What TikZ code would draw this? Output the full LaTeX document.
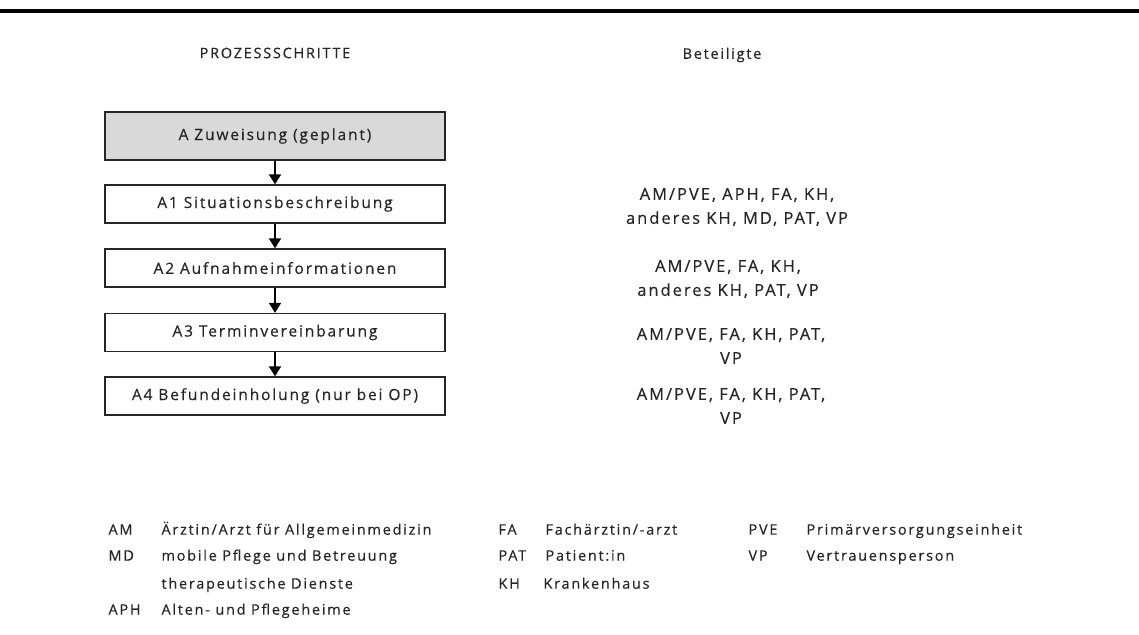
\documentclass[tikz,border=0pt]{standalone}
\usepackage{fontspec}
\setmainfont{Open Sans}[LetterSpace=12, FakeBold=0.4]
\usetikzlibrary{arrows.meta}
\definecolor{ink}{HTML}{262626}
\definecolor{boxgray}{HTML}{D9D9D9}
\begin{document}
\begin{tikzpicture}[x=1pt,y=-1pt,
  font=\fontsize{15.5}{18}\selectfont, text=ink,
  stepbox/.style={draw=black!85, line width=1.3pt, minimum width=340pt,
    minimum height=38pt, inner sep=0pt},
  headbox/.style={stepbox, fill=boxgray, minimum height=48pt},
  flow/.style={-{Triangle[width=12pt,length=10pt]}, line width=1.8pt, black},
  who/.style={align=center, font=\fontsize{16.5}{24}\selectfont},
  title/.style={font=\fontsize{14.5}{17}\selectfont},
  abbr/.style={anchor=mid west, font=\fontsize{14.5}{17}\selectfont}]
\useasboundingbox (0,0) rectangle (1139,634);

% rule across the top
\draw[line width=4pt] (0,11) -- (1139,11);

% column headings
\node[title] (hsteps) at (275,53) {PROZESSSCHRITTE};
\node[title] (hwho) at (722,55) {Beteiligte};

% process steps
\node[headbox] (a)  at (275,136) {A Zuweisung (geplant)};
\node[stepbox] (a1) at (275,204) {A1 Situationsbeschreibung};
\node[stepbox] (a2) at (275,268) {A2 Aufnahmeinformationen};
\node[stepbox] (a3) at (275,332.5) {A3 Terminvereinbarung};
\node[stepbox] (a4) at (275,396) {A4 Befundeinholung (nur bei OP)};

\draw[flow] (a.south) -- (a1.north);
\draw[flow] (a1.south) -- (a2.north);
\draw[flow] (a2.south) -- (a3.north);
\draw[flow] (a3.south) -- (a4.north);

% participants per step
\node[who] (w1) at (737,207) {AM/PVE, APH, FA, KH,\\anderes KH, MD, PAT, VP};
\node[who] (w2) at (728,279) {AM/PVE, FA, KH,\\anderes KH, PAT, VP};
\node[who] (w3) at (731,346) {AM/PVE, FA, KH, PAT,\\VP};
\node[who] (w4) at (731,406) {AM/PVE, FA, KH, PAT,\\VP};

% abbreviations
\node[abbr] (lam)  at (105,532) {AM};
\node[abbr] (lamt) at (158,532) {Ärztin/Arzt für Allgemeinmedizin};
\node[abbr] (lmd)  at (105,558) {MD};
\node[abbr] (lmdt) at (158,558) {mobile Pflege und Betreuung};
\node[abbr] (lmdu) at (158,586) {therapeutische Dienste};
\node[abbr] (lap)  at (105,612) {APH};
\node[abbr] (lapt) at (158,612) {Alten- und Pflegeheime};

\node[abbr] (lfa)  at (495,532) {FA};
\node[abbr] (lfat) at (542,532) {Fachärztin/-arzt};
\node[abbr] (lpa)  at (495,558) {PAT};
\node[abbr] (lpat) at (542,558) {Patient:in};
\node[abbr] (lkh)  at (495,586) {KH};
\node[abbr] (lkht) at (540,586) {Krankenhaus};

\node[abbr] (lpv)  at (745,532) {PVE};
\node[abbr] (lpvt) at (803,532) {Primärversorgungseinheit};
\node[abbr] (lvp)  at (745,558) {VP};
\node[abbr] (lvpt) at (803,558) {Vertrauensperson};
\end{tikzpicture}
\end{document}
